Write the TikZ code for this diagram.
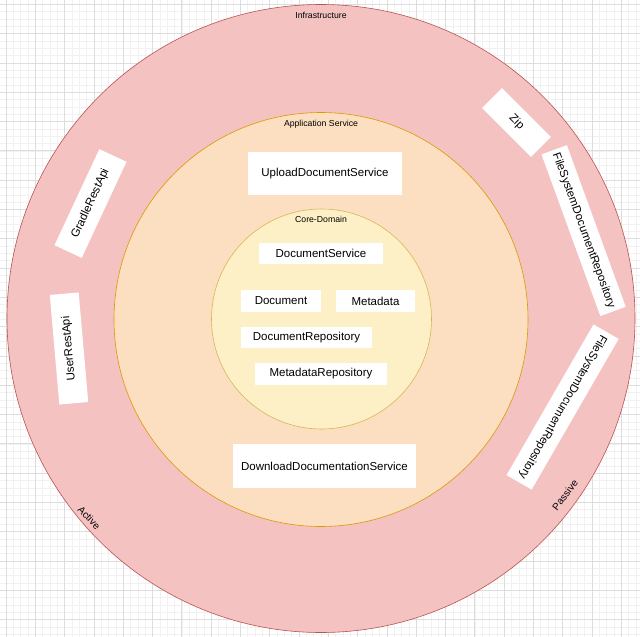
\documentclass[tikz,border=0pt]{standalone}
\usepackage{fontspec}
\setmainfont{Liberation Sans}
\usepackage{tikz}
\usepackage{color}

\definecolor{gridminor}{RGB}{241,241,241}
\definecolor{gridmajor}{RGB}{221,221,221}
\definecolor{infrafill}{RGB}{245,194,194}
\definecolor{infraline}{RGB}{184,84,80}
\definecolor{appfill}{RGB}{252,222,192}
\definecolor{appline}{RGB}{215,155,0}
\definecolor{corefill}{RGB}{254,240,198}
\definecolor{coreline}{RGB}{214,182,86}

\begin{document}
\begin{tikzpicture}[%
    x=1pt, y=-1pt,
    box/.style={fill=white, inner sep=0pt, font=\fontsize{11.5}{13}\selectfont},
    ringlabel/.style={inner sep=0pt, font=\fontsize{8.7}{10}\selectfont},
    sidelabel/.style={inner sep=0pt, font=\fontsize{10}{12}\selectfont},
    ]
    \useasboundingbox (0,0) rectangle (640,637);
    \clip (0,0) rectangle (640,637);
    % grid paper
    \fill [white] (0,0) rectangle (640,637);
    \foreach \i in {-1,...,87} {
        \draw [gridminor, line width=0.5pt] ({6+7.325*\i},0) -- ({6+7.325*\i},637);
        \draw [gridminor, line width=0.5pt] (0,{4.3+7.325*\i}) -- (640,{4.3+7.325*\i});
    }
    \foreach \i in {0,...,21} {
        \draw [gridmajor, line width=0.8pt] ({6+29.3*\i},0) -- ({6+29.3*\i},637);
        \draw [gridmajor, line width=0.8pt] (0,{4.3+29.3*\i}) -- (640,{4.3+29.3*\i});
    }
    % rings
    \filldraw [fill=infrafill, draw=infraline, line width=0.6pt] (321,318.5) circle [radius=314pt];
    \filldraw [fill=appfill, draw=appline, line width=0.6pt] (321,319.5) circle [radius=207pt];
    \filldraw [fill=corefill, draw=coreline, line width=0.6pt] (321.5,319) circle [radius=110pt];
    \node [ringlabel] (infra) at (321,15) {Infrastructure};
    \node [ringlabel] (appsvc) at (321,124) {Application Service};
    \node [ringlabel] (coredomain) at (321,219) {Core-Domain};
    \node [sidelabel, rotate=-46] (active) at (89.2,517.8) {Active};
    \node [sidelabel, rotate=52] (passive) at (565,495) {Passive};
    % core domain
    \node [box, minimum width=124pt, minimum height=21pt] (docservice) at (321,253.5) {DocumentService};
    \node [box, minimum width=80pt, minimum height=22pt] (document) at (281,301) {Document};
    \node [box, minimum width=79pt, minimum height=22pt] (metadata) at (375.5,301) {Metadata};
    \node [box, minimum width=131pt, minimum height=21pt] (docrepo) at (306.5,337.5) {DocumentRepository};
    \node [box, minimum width=132pt, minimum height=22pt] (metarepo) at (321,374) {MetadataRepository};
    % application service
    \node [box, minimum width=154pt, minimum height=43pt] (upload) at (325,173.5) {UploadDocumentService};
    \node [box, minimum width=183pt, minimum height=44pt] (download) at (324.5,466) {DownloadDocumentationService};
    % infrastructure
    \node [box, minimum width=106pt, minimum height=30pt, rotate=65] (gradleapi) at (90.5,203.5) {GradleRestApi};
    \node [box, minimum width=110pt, minimum height=29pt, rotate=95] (userapi) at (69,348.5) {UserRestApi};
    \node [box, minimum width=69pt, minimum height=28pt, rotate=-45] (zip) at (516.5,122.5) {Zip};
    \node [box, minimum width=172pt, minimum height=27pt, rotate=-70] (fsrepoa) at (583.6,230.6) {FileSystemDocumentRepository};
    \node [box, minimum width=174pt, minimum height=29pt, rotate=-120] (fsrepob) at (562.6,407) {FileSystemDocumentRepository};
\end{tikzpicture}
\end{document}
